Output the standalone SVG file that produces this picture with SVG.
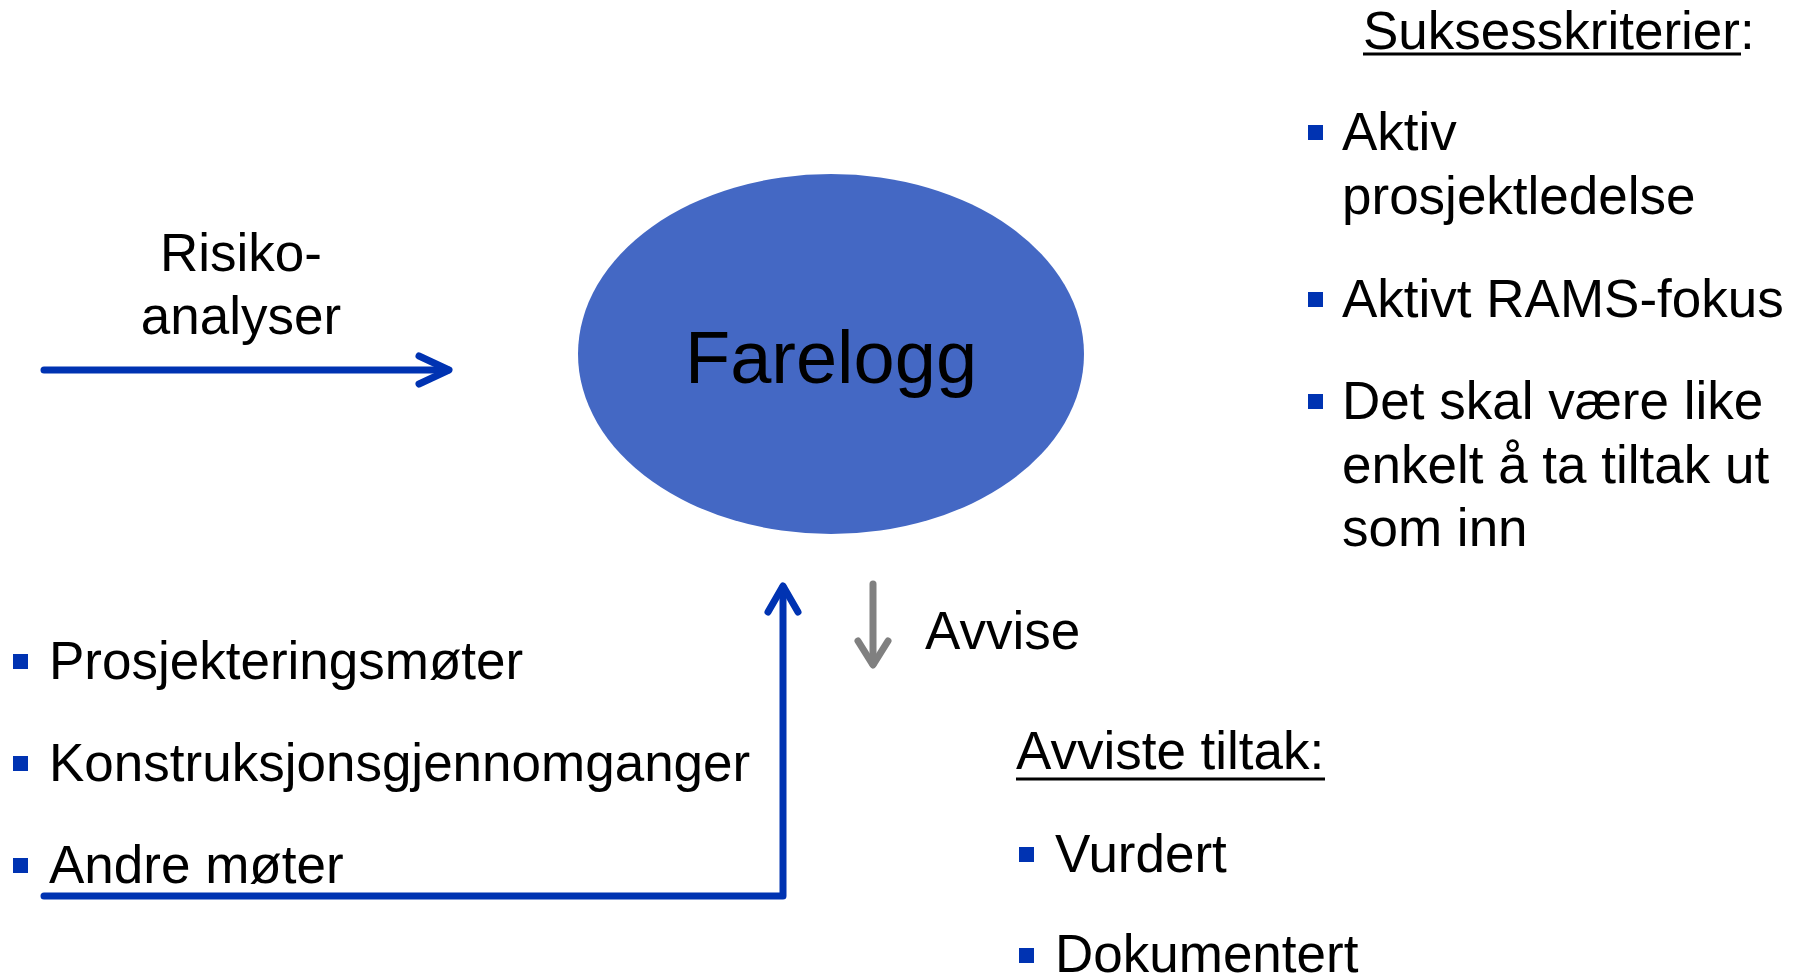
<svg xmlns="http://www.w3.org/2000/svg" width="1802" height="977" viewBox="0 0 1802 977">
<style>
text{font-family:"Liberation Sans",Arial,sans-serif;font-size:53px;fill:#000}
.b{fill:#0033B2}
.conn{fill:none;stroke:#0033B2;stroke-width:7;stroke-linecap:round;stroke-linejoin:round}
.gray{fill:none;stroke:#808080;stroke-width:7;stroke-linecap:round;stroke-linejoin:round}
.ul{stroke:#000;stroke-width:3}
</style>
<rect width="1802" height="977" fill="#fff"/>
<g id="farelogg">
<ellipse cx="831" cy="354" rx="253" ry="180" fill="#4468C4"/>
<text x="831" y="383" text-anchor="middle" style="font-size:74px">Farelogg</text>
</g>
<g id="risikoanalyser">
<text x="241" y="271" text-anchor="middle">Risiko-</text>
<text x="241" y="334" text-anchor="middle">analyser</text>
</g>
<g id="moter">
<rect class="b" x="13" y="654" width="15" height="15"/>
<text x="49" y="679">Prosjekteringsmøter</text>
<rect class="b" x="13" y="756" width="15" height="15"/>
<text x="49" y="781">Konstruksjonsgjennomganger</text>
<rect class="b" x="13" y="858" width="15" height="15"/>
<text x="49" y="883">Andre møter</text>
</g>
<g id="avvise">
<text x="925" y="649">Avvise</text>
</g>
<g id="avviste-tiltak">
<text x="1016" y="769">Avviste tiltak:</text>
<line class="ul" x1="1016" y1="779" x2="1325" y2="779"/>
<rect class="b" x="1019" y="847" width="15" height="15"/>
<text x="1055" y="872">Vurdert</text>
<rect class="b" x="1019" y="948" width="15" height="15"/>
<text x="1055" y="972">Dokumentert</text>
</g>
<g id="suksesskriterier">
<text x="1363" y="49">Suksesskriterier:</text>
<line class="ul" x1="1363" y1="54" x2="1741" y2="54"/>
<rect class="b" x="1308" y="125" width="15" height="15"/>
<text x="1342" y="150">Aktiv</text>
<text x="1342" y="214">prosjektledelse</text>
<rect class="b" x="1308" y="292" width="15" height="15"/>
<text x="1342" y="317">Aktivt RAMS-fokus</text>
<rect class="b" x="1308" y="394" width="15" height="15"/>
<text x="1342" y="419">Det skal være like</text>
<text x="1342" y="483">enkelt å ta tiltak ut</text>
<text x="1342" y="546">som inn</text>
</g>
<g id="connectors">
<line class="conn" x1="44" y1="370" x2="448" y2="370"/>
<polyline class="conn" points="419,356 449,370 419,384"/>
<polyline class="conn" points="44,896 783,896 783,587"/>
<polyline class="conn" points="768,612 783,586 798,612"/>
<line class="gray" x1="873" y1="584" x2="873" y2="664"/>
<polyline class="gray" points="858,641 873,665 888,641"/>
</g>
</svg>
